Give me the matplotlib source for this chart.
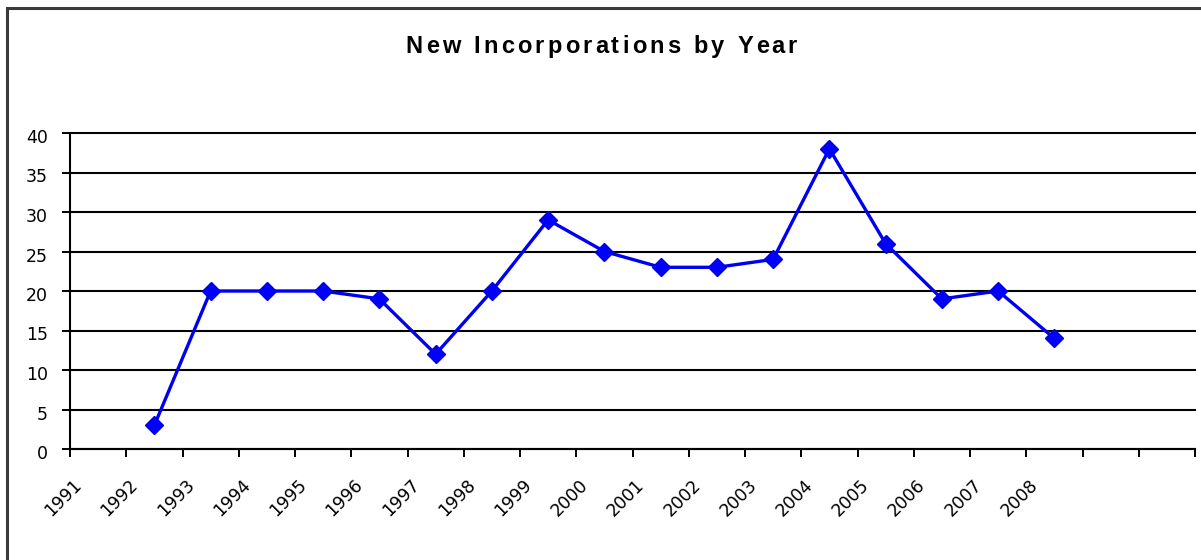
import numpy as np
import matplotlib
matplotlib.use('Agg')
import matplotlib.pyplot as plt
from matplotlib.patches import Rectangle
from matplotlib.transforms import ScaledTranslation

# chart data
years = ['1991', '1992', '1993', '1994', '1995', '1996', '1997', '1998', '1999',
         '2000', '2001', '2002', '2003', '2004', '2005', '2006', '2007', '2008']
data_years = ['1992', '1993', '1994', '1995', '1996', '1997', '1998', '1999', '2000',
              '2001', '2002', '2003', '2004', '2005', '2006', '2007', '2008']
incorporations = [3, 20, 20, 20, 19, 12, 20, 29, 25, 23, 23, 24, 38, 26, 19, 20, 14]
n_categories = 20
y_ticks = [0, 5, 10, 15, 20, 25, 30, 35, 40]
title = 'New Incorporations by Year'

W, H = 1201, 560
fig = plt.figure(figsize=(W / 100, H / 100), dpi=100)
fig.patch.set_facecolor('white')

# outer chart border (only left and top visible in the crop)
fig.add_artist(Rectangle((7 / W, -0.2), 2.0, (560 - 8) / H + 0.2, transform=fig.transFigure,
                         fill=False, edgecolor='#3a3a3a', linewidth=2.2))

ax = fig.add_axes([70 / W, (H - 449) / H, (1195 - 70) / W, (449 - 133) / H])

x = [years.index(y) + 0.5 for y in data_years]
ax.plot(x, incorporations, color='#0000f0', linewidth=2.4, marker='D', markersize=9.5,
        markerfacecolor='#0000ff', markeredgecolor='#0000e0', zorder=3, clip_on=False)

ax.set_xlim(0, n_categories)
ax.set_ylim(0, 40)

# horizontal gridlines
ax.set_yticks(y_ticks)
ax.yaxis.grid(True, color='black', linewidth=1.5)
ax.set_axisbelow(True)
for gl in ax.yaxis.get_gridlines():
    gl.set_clip_on(False)

tick_font = dict(family='DejaVu Sans', size=12.5)
ax.set_yticklabels([str(v) for v in y_ticks], **tick_font)
ax.tick_params(axis='y', direction='out', length=6, width=1.4, color='black', pad=10)
for lab in ax.get_yticklabels():
    lab.set_transform(lab.get_transform() + ScaledTranslation(0, -3 / 100, fig.dpi_scale_trans))

# category boundaries as major ticks, labels on minor ticks
ax.set_xticks(np.arange(n_categories + 1))
ax.set_xticklabels([])
ax.tick_params(axis='x', which='major', direction='out', length=6, width=1.4, color='black')
ax.set_xticks(np.arange(len(years)) + 0.5, minor=True)
ax.set_xticklabels(years, minor=True, rotation=45, ha='right', va='center',
                   rotation_mode='anchor', **tick_font)
ax.tick_params(axis='x', which='minor', length=0, pad=24)
for lab in ax.get_xticklabels(minor=True):
    lab.set_transform(lab.get_transform() + ScaledTranslation(-19 / 100, 0, fig.dpi_scale_trans))

for side in ['top', 'right']:
    ax.spines[side].set_visible(False)
for side in ['left', 'bottom']:
    ax.spines[side].set_linewidth(1.5)
    ax.spines[side].set_color('black')

# title with letter spacing, laid out char by char
title_font = dict(family='Liberation Sans', weight='bold', size=17)
spacing = 3.2
renderer = fig.canvas.get_renderer()
tmp = fig.text(0, 0, '|', **title_font)
bar_w = tmp.get_window_extent(renderer).width
offsets = []
for k in range(len(title) + 1):
    tmp.set_text(title[:k] + '|')
    offsets.append(tmp.get_window_extent(renderer).width - bar_w + k * spacing)
tmp.remove()
total = offsets[-1] - spacing
x0 = 601 - total / 2
for k, ch in enumerate(title):
    if ch != ' ':
        fig.text((x0 + offsets[k]) / W, (H - 53) / H, ch, ha='left', va='baseline', **title_font)

fig.savefig('out.png', dpi=100, facecolor='white')
